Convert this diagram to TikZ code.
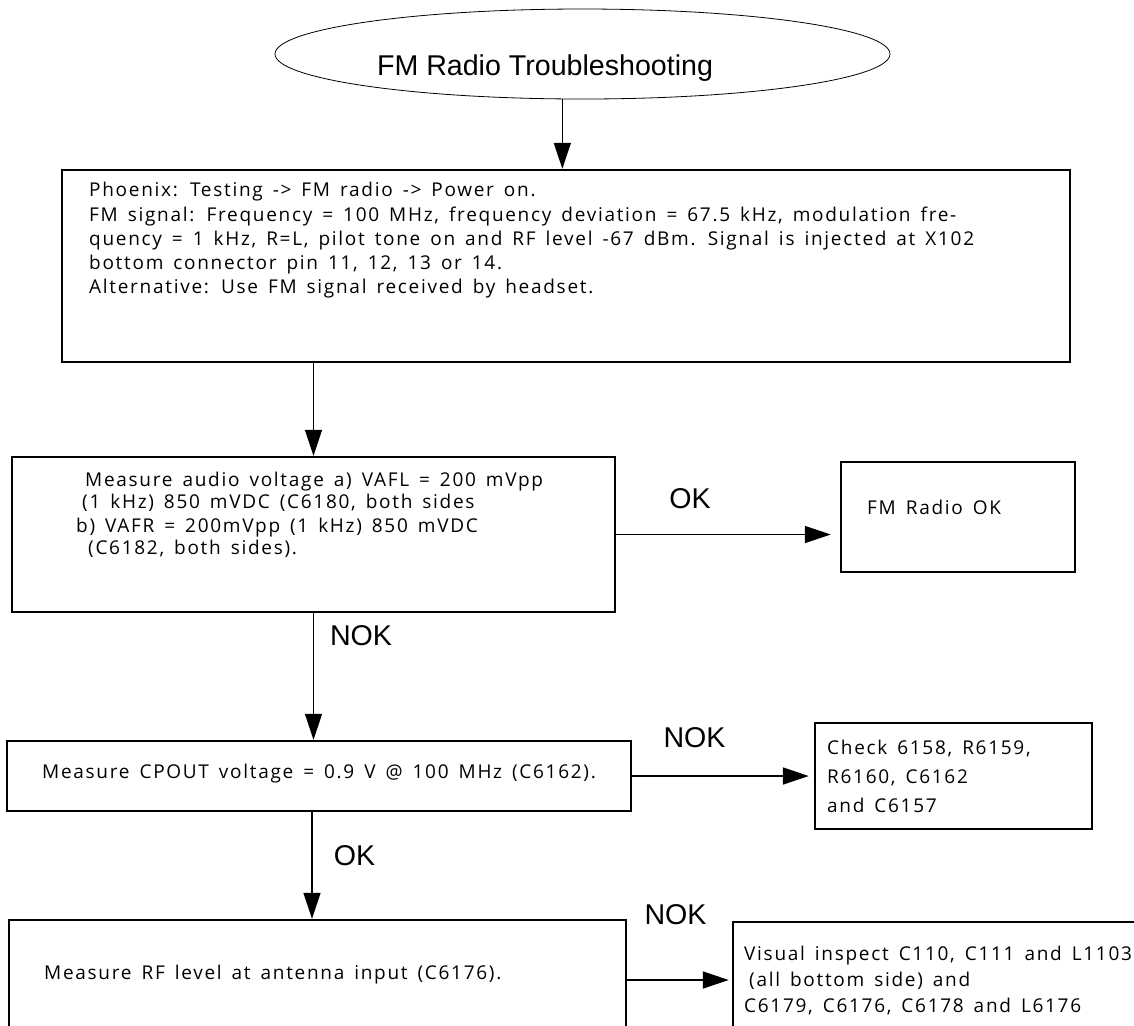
\documentclass[tikz,border=0pt]{standalone}
\usepackage{fontspec}
\setmainfont{Open Sans}[LetterSpace=9, WordSpace=1.5]
\newfontfamily\labelfont{Liberation Sans}
\usetikzlibrary{arrows.meta,shapes.geometric}
\begin{document}
\begin{tikzpicture}[x=0.5pt, y=-0.5pt,
    box/.style={draw, rectangle, line width=1.2pt, inner sep=0pt},
    txt/.style={anchor=base west, align=left, inner sep=0pt, font=\fontsize{9.5}{#1}\selectfont},
    txt/.default=12,
    tag/.style={anchor=base, inner sep=0pt, font=\labelfont\fontsize{14.3}{17}\selectfont},
    arr/.style={-{Triangle[length=13pt, width=8.5pt]}, line width=0.8pt}]
        \path[use as bounding box, clip] (0,0) rectangle (1134,1025);

        % Draw the start ellipse
        \node[draw, ellipse, line width=0.4pt, minimum width=307.5pt, minimum height=45pt, inner sep=0pt] (start) at (582.5,54) {};
        \node[tag] (title) at (545,75) {FM Radio Troubleshooting};

        % Draw the setup box (text is placed by its last baseline)
        \node[box, minimum width=504pt, minimum height=96pt] (phoenix) at (566,266) {};
        \node[txt=12.1] (phoenixtext) at ([shift={(28,124.8)}]phoenix.north west) {Phoenix: Testing -> FM radio -> Power on.\\
            FM signal: Frequency = 100 MHz, frequency deviation = 67.5 kHz, modulation fre-\\
            quency = 1 kHz, R=L, pilot tone on and RF level -67 dBm. Signal is injected at X102\\
            bottom connector pin 11, 12, 13 or 14.\\
            Alternative: Use FM signal received by headset.};

        % Draw the measuring boxes
        \node[box, minimum width=301.5pt, minimum height=77.5pt] (audio) at (313.5,534.5) {};
        \node[txt=10.6] (audiotext) at ([shift={(65,98.2)}]audio.north west) {\hspace{4.5pt}Measure audio voltage a) VAFL = 200 mVpp\\
            \hspace{3pt}(1 kHz) 850 mVDC (C6180, both sides\\[1.8pt]
            b) VAFR = 200mVpp (1 kHz) 850 mVDC\\
            \hspace{6pt}(C6182, both sides).};

        \node[box, minimum width=312pt, minimum height=35pt] (cpout) at (319,776) {};
        \node[txt] (cpouttext) at ([shift={(36,39)}]cpout.north west) {Measure CPOUT voltage = 0.9 V @ 100 MHz (C6162).};

        \node[box, minimum width=308.5pt, minimum height=60pt] (rf) at (317.5,980) {};
        \node[txt] (rftext) at ([shift={(36,61)}]rf.north west) {Measure RF level at antenna input (C6176).};

        % Draw the result boxes
        \node[box, minimum width=117pt, minimum height=55pt] (fmok) at (958,517) {};
        \node[txt] (fmoktext) at ([shift={(27,54)}]fmok.north west) {FM Radio OK};

        \node[box, minimum width=138.5pt, minimum height=53pt] (check) at (953.5,776) {};
        \node[txt=14.5] (checktext) at ([shift={(13,91)}]check.north west) {Check 6158, R6159,\\
            R6160, C6162\\
            and C6157};

        \node[box, minimum width=208.5pt, minimum height=59pt] (visual) at (941.5,981) {};
        \node[txt=13] (visualtext) at ([shift={(12,92)}]visual.north west) {Visual inspect C110, C111 and L1103\\
            \hspace{2.5pt}(all bottom side) and\\
            C6179, C6176, C6178 and L6176};

        % Draw the arrows
        \draw[arr] (start.246) -- (start.246 |- phoenix.north);
        \draw[arr] (audio.north |- phoenix.south) -- (audio.north);
        \draw[arr, shorten >=4.5pt] (audio.east) -- (audio.east -| fmok.west);
        \draw[arr] (audio.south) -- (audio.south |- cpout.north);
        \draw[arr, shorten >=2.5pt] (cpout.east) -- (cpout.east -| check.west);
        \draw[arr] ([xshift=-2.75pt]rf.north |- cpout.south) -- ([xshift=-2.75pt]rf.north);
        \draw[arr, shorten >=1.5pt] (rf.east) -- (rf.east -| visual.west);

        % Add the branch labels
        \node[tag] (ok1) at (690,508) {OK};
        \node[tag] (nok1) at (361,645) {NOK};
        \node[tag] (nok2) at (694.5,747) {NOK};
        \node[tag] (ok2) at (354.5,865) {OK};
        \node[tag] (nok3) at (675.5,924) {NOK};

    \end{tikzpicture}
\end{document}
